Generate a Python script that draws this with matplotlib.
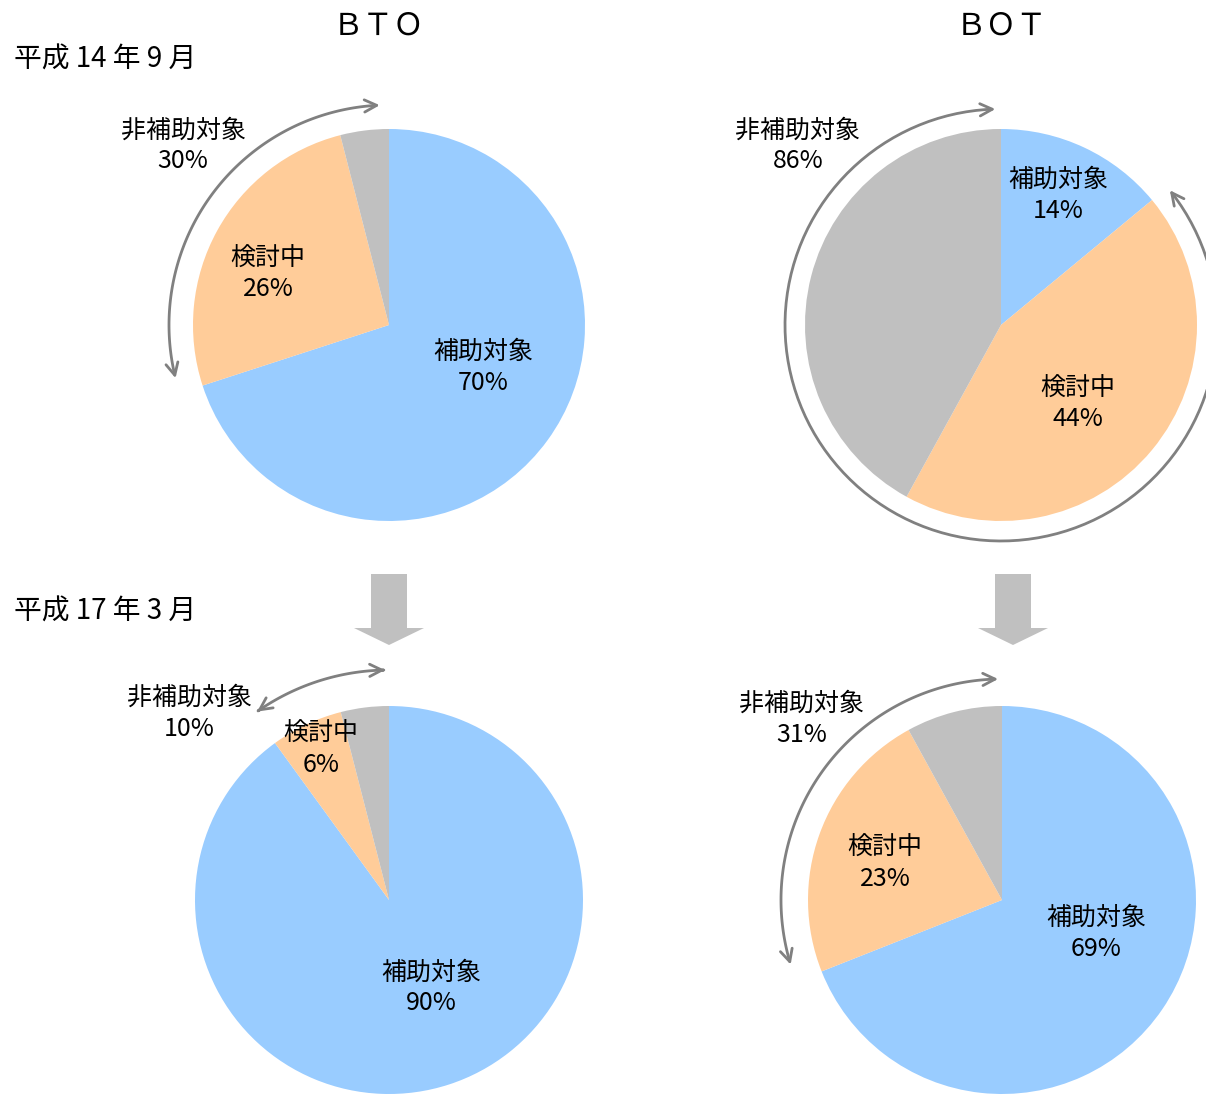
import numpy as np
import matplotlib.pyplot as plt
from matplotlib.patches import FancyArrowPatch
from matplotlib.path import Path

plt.rcParams['font.family'] = ['Noto Sans CJK JP', 'DejaVu Sans']

W, H = 1206, 1099

labels = ['補助対象', '検討中', '非補助対象']
colors = ['#99CCFF', '#FFCC99', '#C0C0C0']
bto_h14 = [70, 26, 4]
bot_h14 = [14, 44, 42]
bto_h17 = [90, 6, 4]
bot_h17 = [69, 23, 8]
non_target = {'bto_h14': 30, 'bot_h14': 86, 'bto_h17': 10, 'bot_h17': 31}

fig = plt.figure(figsize=(W / 100, H / 100), dpi=100)
ax = fig.add_axes([0, 0, 1, 1])


def Y(y):
    return H - y


def draw_pie(vals, cx, cy, r):
    ax.pie(vals, colors=colors, startangle=90, counterclock=False,
           center=(cx, Y(cy)), radius=r, wedgeprops=dict(linewidth=0))


def arc(cx, cy, r, a0, a1):
    t = np.radians(np.linspace(a0, a1, 120))
    verts = np.column_stack([cx + r * np.cos(t), Y(cy) + r * np.sin(t)])
    p = FancyArrowPatch(path=Path(verts), arrowstyle='<->', mutation_scale=22,
                        color='#808080', lw=2.0)
    ax.add_patch(p)


def label(x, y, name, pct, fs=18):
    # shift a bit down to sit like the original
    ax.text(x, Y(y + 3), f'{name}\n{pct}%', ha='center', va='center',
            fontsize=fs, linespacing=1.25)


# pies
draw_pie(bto_h14, 389, 325, 196)
draw_pie(bot_h14, 1001, 325, 196)
draw_pie(bto_h17, 389, 900, 194)
draw_pie(bot_h17, 1002, 900, 194)

# arcs around non-target portion
arc(389, 325, 220, 92.4, 194)
arc(1001, 325, 216, 91.5, 398.6)
arc(389, 900, 230, 91, 125)
arc(1002, 900, 221, 91, 197)

# labels
label(183, 143, labels[2], non_target['bto_h14'])
label(268, 271, labels[1], bto_h14[1])
label(483, 364, labels[0], bto_h14[0])

label(798, 143, labels[2], non_target['bot_h14'])
label(1058, 192, labels[0], bot_h14[0])
label(1078, 401, labels[1], bot_h14[1])

label(189, 710, labels[2], non_target['bto_h17'])
label(321, 746, labels[1], bto_h17[1])
label(431, 985, labels[0], bto_h17[0])

label(802, 716, labels[2], non_target['bot_h17'])
label(885, 860, labels[1], bot_h17[1])
label(1096, 930, labels[0], bot_h17[0])

# titles
ax.text(378, Y(26), 'ＢＴＯ', ha='center', va='center', fontsize=22)
ax.text(1001, Y(26), 'ＢＯＴ', ha='center', va='center', fontsize=22)
ax.text(14, Y(60), '平成 14 年 9 月', ha='left', va='center', fontsize=20)
ax.text(14, Y(612), '平成 17 年 3 月', ha='left', va='center', fontsize=20)

# down arrows
for x in (389, 1013):
    ax.arrow(x, Y(574), 0, -71, width=36, head_width=70, head_length=17,
             length_includes_head=True, color='#C0C0C0', lw=0)

ax.set_xlim(0, W)
ax.set_ylim(0, H)
ax.set_aspect('equal')
ax.axis('off')

fig.savefig('out.png', dpi=100)
